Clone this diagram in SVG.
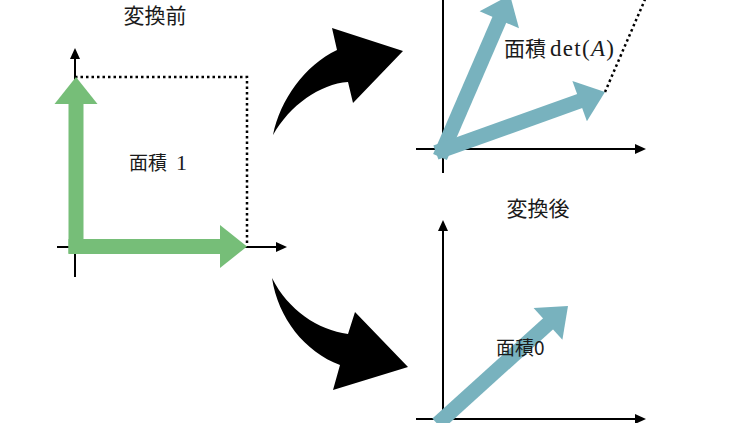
<svg xmlns="http://www.w3.org/2000/svg" width="752" height="423" viewBox="0 0 752 423">
<style>
.ax{stroke:#000;stroke-width:2;fill:none}
.ah{fill:#000}
.dot{stroke:#000;stroke-width:2.5;fill:none;stroke-dasharray:2.5 3}
.g{stroke:#76be78;stroke-width:15;fill:none}
.gh{fill:#76be78}
.b{stroke:#78b2be;stroke-width:15;fill:none}
.bh{fill:#78b2be}
.t{font-family:"Noto Sans CJK JP","Noto Sans",sans-serif;fill:#1a1a1a}
.m{font-family:"Liberation Serif","DejaVu Serif",serif;fill:#1a1a1a}
.big{fill:#000}
</style>
<rect width="752" height="423" fill="#fff"/>
<g id="before">
  <line class="ax" x1="57" y1="247" x2="277" y2="247"/>
  <polygon class="ah" points="287,247 276,242 276,252"/>
  <line class="ax" x1="75" y1="277" x2="75" y2="58"/>
  <polygon class="ah" points="75,48 70,59 80,59"/>
  <path class="dot" d="M75,77 H247 V247"/>
  <line class="g" x1="76" y1="253.5" x2="76" y2="103"/>
  <polygon class="gh" points="54.5,104 97.5,104 76,77"/>
  <line class="g" x1="68.5" y1="246.5" x2="221" y2="246.5"/>
  <polygon class="gh" points="220,225 220,268 247,246.5"/>
  <text class="t" x="155" y="23" font-size="21" text-anchor="middle">変換前</text>
  <text x="129" y="170"><tspan class="t" font-size="19">面積</tspan><tspan class="m" font-size="22" x="176">1</tspan></text>
</g>
<g id="after-top">
  <line class="ax" x1="443" y1="-5" x2="443" y2="173"/>
  <line class="ax" x1="416" y1="149" x2="636" y2="149"/>
  <polygon class="ah" points="646,149 635,144 635,154"/>
  <path class="dot" d="M605,92 L672,-63"/>
  <line class="b" x1="440" y1="156.9" x2="499.7" y2="18.9"/>
  <polygon class="bh" points="519,28.3 479.6,11.3 510,-5"/>
  <line class="b" x1="435.9" y1="152.5" x2="580.5" y2="100.8"/>
  <polygon class="bh" points="586.9,121.3 572.4,80.9 605,92"/>
  <text x="504" y="56"><tspan class="t" font-size="21">面積</tspan><tspan class="m" font-size="23" x="550" textLength="64" lengthAdjust="spacing">det(<tspan font-style="italic">A</tspan>)</tspan></text>
</g>
<g id="after-bottom">
  <line class="ax" x1="443" y1="430" x2="443" y2="230"/>
  <polygon class="ah" points="443,220 438,231 448,231"/>
  <line class="ax" x1="416" y1="419" x2="636" y2="419"/>
  <polygon class="ah" points="646,419 635,414 635,424"/>
  <line class="b" x1="437.4" y1="424" x2="548.7" y2="323.2"/>
  <polygon class="bh" points="562.4,339.8 533.6,308 568,306"/>
  <text class="t" x="538" y="216" font-size="21" text-anchor="middle">変換後</text>
  <text class="t" x="496" y="355" font-size="19">面積0</text>
</g>
<g id="connectors">
  <path class="big" d="M273,135 C280,100 305,65 337,50 L332,28 L403,51 L353,103 L348,82 C320,84 290,105 273,135 Z"/>
  <path class="big" d="M272,278 C278,318 305,352 340,365 L333,390 L408,367 L355,312 L348,334 C318,330 288,310 272,278 Z"/>
</g>
</svg>
